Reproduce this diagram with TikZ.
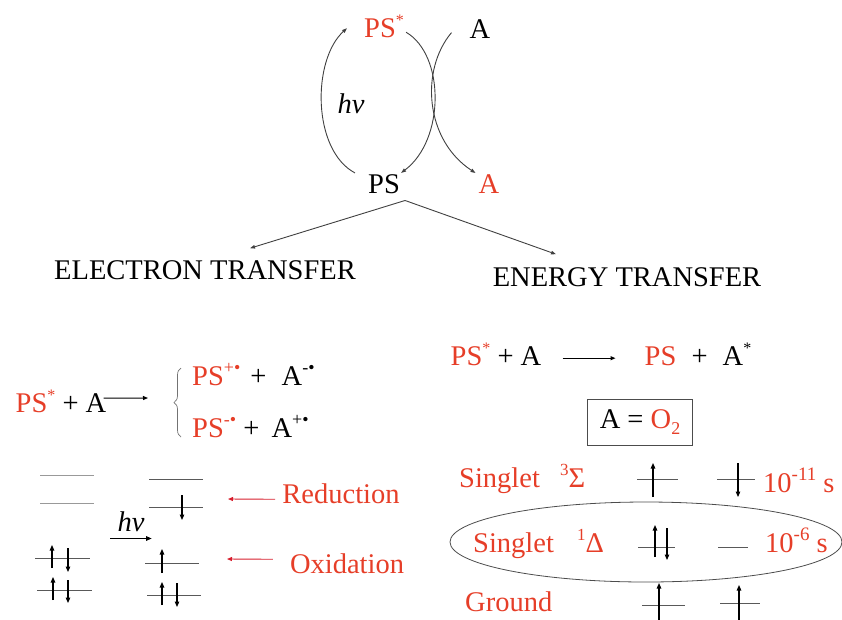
\documentclass[tikz,border=0pt]{standalone}
\usepackage{fontspec}
\setmainfont{Liberation Serif}
\usepackage{xcolor}
\usepackage{tikz}
\usetikzlibrary{arrows.meta,decorations.pathreplacing}
\definecolor{psred}{RGB}{230,62,40}
\definecolor{arrred}{RGB}{215,30,45}
\newcommand{\supr}[2][16]{\raisebox{0.4em}{\fontsize{#1}{#1}\selectfont #2}}
\newcommand{\subr}[1]{\raisebox{-0.22em}{\fontsize{18}{18}\selectfont #1}}

\begin{document}
\begin{tikzpicture}[
  x=1pt, y=-1pt,
  every node/.style={font=\fontsize{28.5}{32}\selectfont, inner sep=1pt},
  cyc/.style={draw=black!75, line width=0.9pt, -{Triangle[length=5pt,width=3.5pt]}},
  rxn/.style={draw=black, line width=1pt, -{Triangle[length=5pt,width=4pt]}},
  spin/.style={line width=1.1pt, -{Triangle[length=5.5pt,width=4.5pt]}},
  lvl/.style={draw=black!65, line width=1pt},
  lvlpale/.style={draw=black!40, line width=1pt},
  redarr/.style={draw=arrred, line width=0.9pt, -{Triangle[length=5pt,width=4pt]}},
  lab/.style={text=psred, anchor=base west}
]
  \useasboundingbox (0,0) rectangle (842,619);

  % photocycle
  \node[anchor=base, text=psred] (psx) at (384,37) {PS\supr{*}};
  \node[anchor=base] (acc) at (480,38) {A};
  \node[anchor=base] (ps) at (384,193) {PS};
  \node[anchor=base, text=psred] (ared) at (489,193) {A};
  \node[anchor=base] (hv) at (351,113) {\textit{hν}};
  \draw[cyc] ([xshift=-12pt]ps.north west) .. controls (312,150) and (312,60) .. ([shift={(-16,2)}]psx.west);
  \draw[cyc] ([shift={(1,6)}]psx.east) .. controls (445,55) and (445,140) .. (ps.north east);
  \draw[cyc] ([shift={(-17,4)}]acc.west) .. controls (420,70) and (425,140) .. ([xshift=-2pt]ared.north west);

  \coordinate (fork) at ([shift={(4,6)}]ps.south east);
  \node (et) at (205,270) {ELECTRON TRANSFER};
  \node (ent) at (627,277) {ENERGY TRANSFER};
  \draw[cyc] (fork) -- ([shift={(45,-11)}]et.north);
  \draw[cyc] (fork) -- ([shift={(-71,-12)}]ent.north);

  % electron transfer
  \node[anchor=base] (eq1) at (61,412) {\textcolor{psred}{PS\supr{*}} + A};
  \coordinate (eq1tip) at (148,398);
  \draw[rxn] ([shift={(-4,-3)}]eq1.east) -- (eq1tip);
  \draw[decorate, decoration={brace, amplitude=7pt}, draw=black!55, line width=0.7pt] (181,437) -- (181,368);
  \node[anchor=base west] (pr1) at (191,385) {\textcolor{psred}{PS\supr[18]{+•}}\hspace{3pt} + \hspace{8pt}A\supr[18]{-•}};
  \node[anchor=base west] (pr2) at (191,437) {\textcolor{psred}{PS\supr[18]{-•}} + \hspace{5pt}A\supr[18]{+•}};

  \foreach \xa/\xb/\y in {40/94/475, 40/94/503}
    \draw[lvlpale] (\xa,\y) -- (\xb,\y);
  \foreach \xa/\xb/\y in {35/90/558, 37/92/590, 149/203/479, 149/203/507, 145/199/563, 147/201/595,
                          637/678/479, 717/755/479, 638/675/547, 718/748/547, 642/685/605, 720/760/603}
    \draw[lvl] (\xa,\y) -- (\xb,\y);
  \foreach \x/\ya/\yb in {52/568/545, 68/548/572, 53/600/577, 68/580/603, 182/495/520, 162/573/549,
                          162/605/582, 177/583/607, 653/497/463, 738/463/497, 655/557/525, 667/528/560,
                          659/620/583, 739/620/585}
    \draw[spin] (\x,\ya) -- (\x,\yb);

  \node[anchor=base] (hv2) at (131,531) {\textit{hν}};
  \draw[spin] ([shift={(-6,6)}]hv2.south west) -- ([shift={(6,6)}]hv2.south east);

  \node[anchor=base, text=psred] (redn) at (341,503) {Reduction};
  \node[anchor=base, text=psred] (oxdn) at (347,573) {Oxidation};
  \coordinate (redtip) at (228,499);
  \coordinate (oxtip) at (227,559);
  \draw[redarr] ([shift={(-6,6)}]redn.west) -- (redtip);
  \draw[redarr] ([shift={(-16,-4)}]oxdn.west) -- (oxtip);

  % energy transfer
  \node[anchor=base] (eq2) at (496,365) {\textcolor{psred}{PS\supr{*}} + A};
  \node[anchor=base] (eq3) at (698,365) {\textcolor{psred}{PS}\hspace{8pt} + \hspace{8pt}A\supr{*}};
  \draw[rxn] ([shift={(20,4)}]eq2.east) -- ([shift={(-28,4)}]eq3.west);
  \node[draw=black!70, line width=0.9pt, minimum width=105pt, minimum height=46pt] (box) at (640,422)
    {A = \textcolor{psred}{O\subr{2}}};

  \node[lab] (s3) at (458,487) {Singlet};
  \node[lab] (sig) at (559,487) {\supr[17]{3}Σ};
  \node[lab] (t11) at (762,492) {10\supr[19]{-11} s};
  \node[lab] (s1) at (472,552) {Singlet};
  \node[lab] (del) at (576,552) {\supr[17]{1}Δ};
  \node[lab] (t6) at (764,552) {10\supr[19]{-6} s};
  \node[lab] (gnd) at (464,611) {Ground};
  \draw[draw=black!70, line width=0.8pt] (646,542) ellipse [x radius=196pt, y radius=40pt];
\end{tikzpicture}
\end{document}
